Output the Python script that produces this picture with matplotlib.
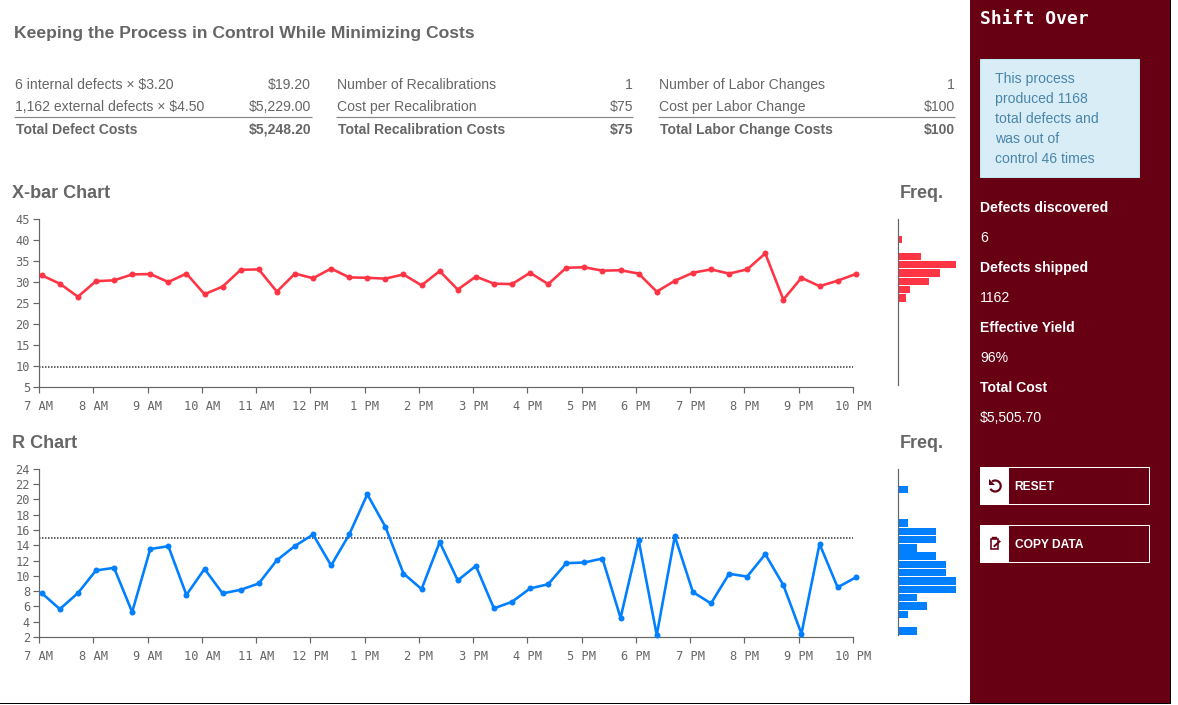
import numpy as np
import matplotlib
matplotlib.use("Agg")
import matplotlib.pyplot as plt
from matplotlib.patches import Rectangle, Polygon, Arc

W, H = 1178, 705
GREY = "#666666"
RED = "#FF3546"
BLUE = "#007FFF"
MAROON = "#660012"

hour_labels = ["7 AM", "8 AM", "9 AM", "10 AM", "11 AM", "12 PM", "1 PM", "2 PM", "3 PM",
               "4 PM", "5 PM", "6 PM", "7 PM", "8 PM", "9 PM", "10 PM"]
hour_ticks = list(range(7, 23))

xbar_values = [31.6, 29.6, 26.5, 30.2, 30.4, 31.8, 31.9, 30.0, 32.0, 27.1, 28.9, 32.9, 33.0, 27.7, 32.0, 30.9,
               33.2, 31.1, 31.0, 30.8, 31.8, 29.2, 32.6, 28.2, 31.3, 29.6, 29.5, 32.2, 29.5, 33.4, 33.5, 32.7,
               32.8, 32.0, 27.7, 30.3, 32.2, 33.0, 32.0, 33.0, 36.8, 25.8, 31.0, 29.0, 30.3, 31.9]
r_values = [7.74, 5.65, 7.74, 10.7, 11.04, 5.26, 13.5, 13.87, 7.5, 10.9, 7.7, 8.17, 9.0, 12.04, 13.9, 15.4,
            11.35, 15.4, 20.65, 16.4, 10.3, 8.26, 14.4, 9.4, 11.3, 5.74, 6.6, 8.35, 8.9, 11.65, 11.74, 12.26,
            4.5, 14.65, 2.26, 15.17, 7.87, 6.39, 10.26, 9.9, 12.83, 8.78, 2.43, 14.17, 8.5, 9.78]
xbar_limit = 9.85
r_limit = 15

xbar_hist_band = [2, 4, 5, 6, 7, 8, 9]
xbar_hist_count = [1, 6, 15, 11, 8, 3, 2]
r_hist_band = [2, 6, 7, 8, 9, 10, 11, 12, 13, 14, 15, 16, 17, 19]
r_hist_count = [1, 1, 4, 4, 2, 4, 5, 5, 6, 6, 2, 3, 1, 2]

table_cols = [
    (15, 311, 14, 312, [("6 internal defects × $3.20", "$19.20"), ("1,162 external defects × $4.50", "$5,229.00")],
     ("Total Defect Costs", "$5,248.20")),
    (337, 633, 336, 633, [("Number of Recalibrations", "1"), ("Cost per Recalibration", "$75")],
     ("Total Recalibration Costs", "$75")),
    (659, 955, 658, 955, [("Number of Labor Changes", "1"), ("Cost per Labor Change", "$100")],
     ("Total Labor Change Costs", "$100")),
]
alert_lines = ["This process", "produced 1168", "total defects and", "was out of", "control 46 times"]
side_stats = [("Defects discovered", "6"), ("Defects shipped", "1162"), ("Effective Yield", "96%"), ("Total Cost", "$5,505.70")]

plt.rcParams["font.family"] = ["Liberation Sans", "DejaVu Sans"]
fig = plt.figure(figsize=(W / 100, H / 100), dpi=100, facecolor="white")


def axes_px(x0, y0, x1, y1, **kw):
    return fig.add_axes([x0 / W, 1 - y1 / H, (x1 - x0) / W, (y1 - y0) / H], **kw)


bg = axes_px(0, 0, W, H)
bg.set_xlim(0, W)
bg.set_ylim(H, 0)
bg.axis("off")


def px(v):
    return v * 0.72


def t(x, y, s, size=14, color=GREY, weight="normal", ha="left", family=None, **kw):
    return bg.text(x, y, s, fontsize=px(size), color=color, fontweight=weight, ha=ha, va="center_baseline",
                   family=family or ["Liberation Sans", "DejaVu Sans"], **kw)


# page frame and side panel
bg.add_patch(Rectangle((970, 0), 200, 703, fc=MAROON, ec="none"))
bg.plot([0, 1170.2, 1170.2], [703.2, 703.2, 0], color="black", lw=px(1))

t(14.5, 32, "Keeping the Process in Control While Minimizing Costs", size=17.45, weight="bold")
for x0, x1, r0, r1, rows, total in table_cols:
    for y, (a, b) in zip((83.5, 105.5), rows):
        t(x0, y, a)
        t(x1, y, b, ha="right")
    bg.plot([r0, r1], [117, 117], color="#888888", lw=px(1.2), solid_capstyle="butt")
    t(x0 + 0.5, 128.5, total[0], weight="bold")
    t(x1, 128.5, total[1], weight="bold", ha="right")

t(12, 191.5, "X-bar Chart", size=18, weight="bold")
t(899.5, 192, "Freq.", size=18, weight="bold")
t(12, 441.5, "R Chart", size=18, weight="bold")
t(899.5, 442, "Freq.", size=18, weight="bold")

# side panel content
t(980, 17.5, "Shift Over", size=18, color="white", weight="bold", family=["DejaVu Sans Mono"])
bg.add_patch(Rectangle((980, 59), 158.8, 117.5, fc="#D9EDF7", ec="#BCE8F1", lw=px(1)))
for y, s in zip((77.5, 97.5, 117.5, 137.5, 157.5), alert_lines):
    t(995, y, s, color="#4A85A8")
for y, (a, b) in zip((206.5, 266.5, 326.5, 386.5), side_stats):
    t(980, y, a, color="white", weight="bold")
    t(980, y + 30, b, color="white")
for top, label in ((467, "RESET"), (525, "COPY DATA")):
    bg.add_patch(Rectangle((980, top), 168.8, 37, fc="none", ec="white", lw=px(1)))
    bg.add_patch(Rectangle((980, top), 27.8, 37, fc="white", ec="white", lw=px(1)))
    t(1014.6, top + 18, label, size=12, color="white", weight="bold")
# reset icon: open ring with an arrowhead
bg.add_patch(Arc((995.2, 486), 11, 11, theta1=-125, theta2=150, color=MAROON, lw=px(2.2)))
bg.add_patch(Polygon([[988.5, 479], [988.5, 485], [994.5, 485]], fc=MAROON, ec="none"))
# copy icon: note with a pencil stroke
bg.add_patch(Rectangle((990.5, 539), 7, 10, fc="white", ec=MAROON, lw=px(1.6)))
bg.plot([992.5, 996], [538.3, 538.3], color=MAROON, lw=px(2.4))
bg.plot([994.5, 999.5], [546, 541.5], color=MAROON, lw=px(2))

sample_hours = 7.05 + np.arange(len(xbar_values)) / 3


def chart(y0, y1, ylim, yticks, values, color, limit):
    ax = axes_px(39, y0, 853, y1)
    ax.patch.set_alpha(0)
    ax.set_xlim(7, 22)
    ax.set_ylim(*ylim)
    for s in ("top", "right"):
        ax.spines[s].set_visible(False)
    for s in ("left", "bottom"):
        ax.spines[s].set_color(GREY)
        ax.spines[s].set_linewidth(px(1.2))
    ax.set_xticks(hour_ticks, hour_labels)
    ax.set_yticks(yticks)
    ax.tick_params(axis="both", length=px(6), width=px(1.2), color=GREY, labelcolor=GREY,
                   labelsize=px(12), pad=px(3))
    ax.tick_params(axis="x", pad=px(6.5))
    for lab in ax.get_xticklabels() + ax.get_yticklabels():
        lab.set_family("DejaVu Sans Mono")
    ax.plot([7, 22], [limit, limit], color="#333333", lw=px(1.5), ls=(0, (1, 1)), clip_on=False)
    ax.plot(sample_hours, values, color=color, lw=px(2.6), marker="o", ms=px(6), mew=0, clip_on=False, zorder=5)
    return ax


chart(219, 387, (5, 45), list(range(5, 46, 5)), xbar_values, RED, xbar_limit)
chart(468.7, 637, (2, 24), list(range(2, 25, 2)), r_values, BLUE, r_limit)


def hist(y0, y1, bands, counts, color):
    ax = axes_px(898, y0, 955.5, y1)
    ax.patch.set_alpha(0)
    ax.set_xlim(0, max(counts))
    ax.set_ylim(20, 0)
    ax.set_xticks([])
    ax.set_yticks([])
    for s in ("top", "right", "bottom"):
        ax.spines[s].set_visible(False)
    ax.spines["left"].set_color(GREY)
    ax.spines["left"].set_linewidth(px(1.2))
    ax.barh(np.array(bands) + 0.5, counts, height=0.9, color=color, edgecolor="none", zorder=1)
    ax.spines["left"].set_zorder(3)
    return ax


hist(219, 385, xbar_hist_band, xbar_hist_count, RED)
hist(469, 635, r_hist_band, r_hist_count, BLUE)

fig.savefig("out.png", dpi=100, facecolor="white")
